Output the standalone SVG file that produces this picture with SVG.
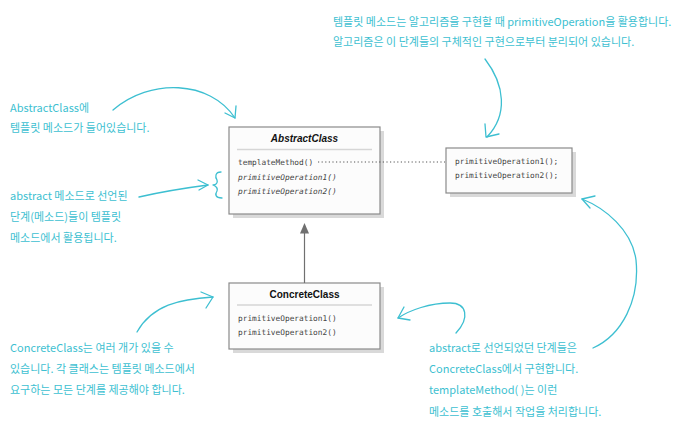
<svg xmlns="http://www.w3.org/2000/svg" width="681" height="427" viewBox="0 0 681 427">
<style>
.note{font-family:"Noto Sans CJK KR","Noto Sans",sans-serif;font-size:11px;fill:#3dbfd1}
.cur{fill:none;stroke:#3dbfd1;stroke-width:1.3;stroke-linecap:round;stroke-linejoin:round}
.box{fill:#fcfcfc;stroke:#8a8a8a;stroke-width:1.2}
.shadow{fill:#d9d9d9}
.sep{stroke:#d6d6d6;stroke-width:1.5}
.title{font-family:"Liberation Sans",Arial,sans-serif;font-weight:bold;font-size:10px;fill:#111;text-anchor:middle}
.code{font-family:"DejaVu Sans Mono","Liberation Mono",monospace;font-size:7.8px;fill:#444}
.it{font-style:italic}
</style>
<rect width="681" height="427" fill="#ffffff"/>
<g id="AbstractClass">
<rect class="shadow" x="233" y="131" width="151" height="87"/>
<rect class="box" x="229" y="127" width="151" height="87"/>
<text class="title it" x="304.5" y="142">AbstractClass</text>
<line class="sep" x1="237" y1="149.5" x2="372" y2="149.5"/>
<text class="code" x="238" y="165">templateMethod()</text>
<text class="code it" x="238" y="179.5">primitiveOperation1()</text>
<text class="code it" x="238" y="194">primitiveOperation2()</text>
</g>
<g id="ConcreteClass">
<rect class="shadow" x="233" y="287" width="151" height="66"/>
<rect class="box" x="229" y="283" width="151" height="66"/>
<text class="title" x="304.5" y="298">ConcreteClass</text>
<line class="sep" x1="237" y1="305" x2="372" y2="305"/>
<text class="code" x="238" y="321">primitiveOperation1()</text>
<text class="code" x="238" y="335">primitiveOperation2()</text>
</g>
<g id="TemplateMethodBody">
<rect class="shadow" x="450" y="152" width="126" height="45"/>
<rect class="box" x="446" y="148" width="126" height="45"/>
<text class="code" x="455" y="164">primitiveOperation1();</text>
<text class="code" x="455" y="178">primitiveOperation2();</text>
</g>
<g id="connectors">
<line x1="318" y1="162" x2="445" y2="162" stroke="#555" stroke-width="1" stroke-dasharray="1.2,2.4"/>
<line x1="304.5" y1="233" x2="304.5" y2="283" stroke="#707070" stroke-width="1.2"/>
<polygon points="304.5,223 300,233.5 309,233.5" fill="#707070"/>
</g>
<g id="note-top">
<text class="note" x="333" y="26">템플릿 메소드는 알고리즘을 구현할 때 primitiveOperation을 활용합니다.</text>
<text class="note" x="333" y="46">알고리즘은 이 단계들의 구체적인 구현으로부터 분리되어 있습니다.</text>
<path class="cur" d="M485,59 C505,85 508,115 487,137"/>
<path class="cur" d="M485,124 L486,137 L499,134"/>
</g>
<g id="note-abstract">
<text class="note" x="10" y="112">AbstractClass에</text>
<text class="note" x="10" y="132">템플릿 메소드가 들어있습니다.</text>
<path class="cur" d="M113,110 C150,78 210,80 235,118"/>
<path class="cur" d="M225,113 L235,118 L236,106"/>
</g>
<g id="note-primitive">
<text class="note" x="10" y="200">abstract 메소드로 선언된</text>
<text class="note" x="10" y="221">단계(메소드)들이 템플릿</text>
<text class="note" x="10" y="242">메소드에서 활용됩니다.</text>
<path class="cur" d="M139,197 C165,191 185,188 208,185"/>
<path class="cur" d="M198,180 L208,185 L199,190"/>
<path class="cur" d="M221,172 C215,172 215,177 217,180 C218,183 216,185 213,185 C216,186 218,188 217,191 C215,194 215,198 222,198"/>
</g>
<g id="note-concrete">
<text class="note" x="10" y="352">ConcreteClass는 여러 개가 있을 수</text>
<text class="note" x="10" y="373">있습니다. 각 클래스는 템플릿 메소드에서</text>
<text class="note" x="10" y="394">요구하는 모든 단계를 제공해야 합니다.</text>
<path class="cur" d="M137,332 C152,305 180,299 213,297"/>
<path class="cur" d="M201,292 L213,297 L206,308"/>
</g>
<g id="note-impl">
<text class="note" x="429" y="352">abstract로 선언되었던 단계들은</text>
<text class="note" x="429" y="373">ConcreteClass에서 구현합니다.</text>
<text class="note" x="429" y="394">templateMethod( )는 이런</text>
<text class="note" x="429" y="416">메소드를 호출해서 작업을 처리합니다.</text>
<path class="cur" d="M456,333 C470,318 467,303 450,303 C430,303 410,310 398,318"/>
<path class="cur" d="M404,307 L398,318 L410,320"/>
<path class="cur" d="M593,348 C622,335 640,300 636,260 C632,230 605,208 582,199"/>
<path class="cur" d="M582,199 L590,208 M582,199 L595,196"/>
</g>
</svg>
